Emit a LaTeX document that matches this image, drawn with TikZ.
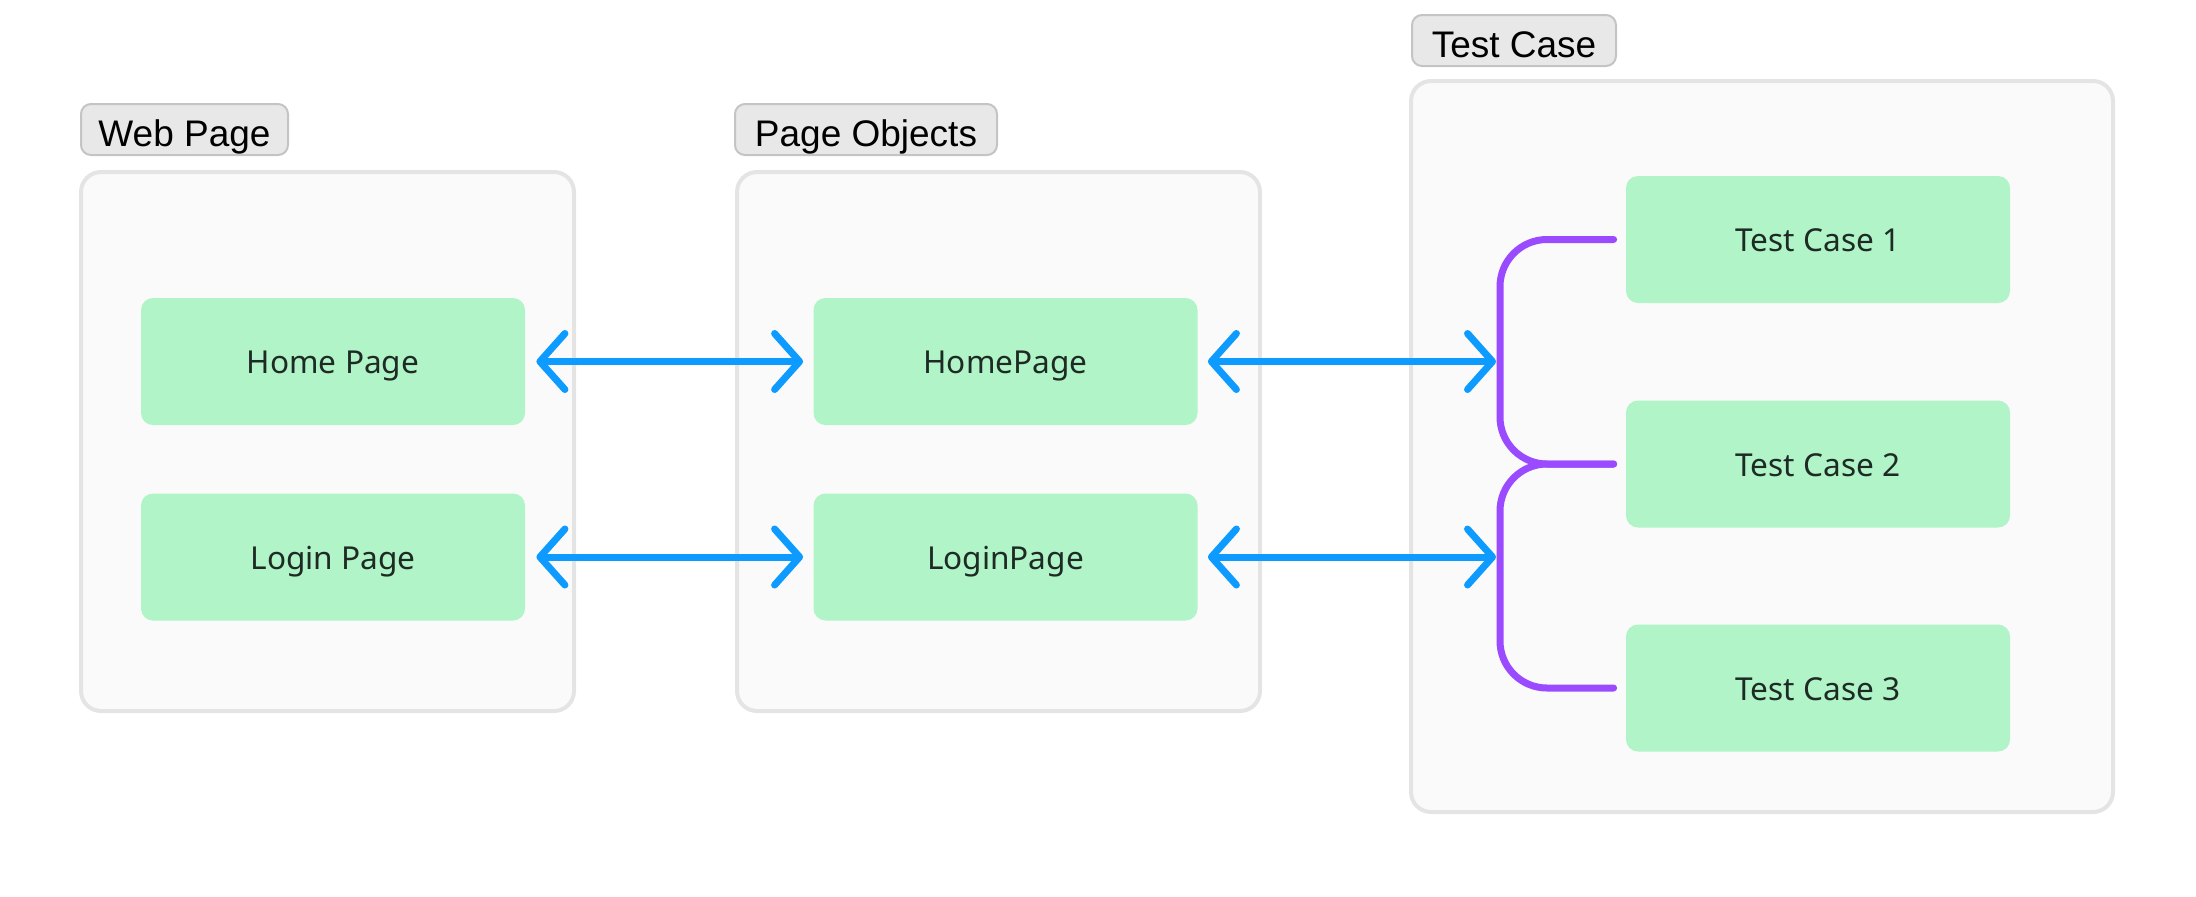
\documentclass[tikz,border=0pt]{standalone}
\usepackage{fontspec}
\setmainfont{Noto Sans}
\newfontfamily\labelfont{Liberation Sans}
\usetikzlibrary{arrows.meta}
\definecolor{boxgreen}{HTML}{B0F4C8}
\definecolor{contfill}{HTML}{FAFAFA}
\definecolor{contline}{HTML}{E4E4E4}
\definecolor{tagfill}{HTML}{E8E8E8}
\definecolor{tagline}{HTML}{C4C4C4}
\definecolor{arrowblue}{HTML}{0E9BFF}
\definecolor{bracketpurple}{HTML}{9B4BFF}
\definecolor{textdark}{HTML}{1E2B24}
\tikzset{
  container/.style={draw=contline, fill=contfill, line width=2pt, rounded corners=10pt},
  item/.style={fill=boxgreen, rounded corners=6pt, minimum width=192pt, minimum height=63.5pt, inner sep=0pt, text height=12pt, text depth=0pt, text=textdark, font=\fontsize{15.8pt}{18pt}\selectfont},
  tag/.style={draw=tagline, fill=tagfill, line width=1pt, rounded corners=5pt, minimum height=25.5pt, inner sep=0pt, text height=17pt, text depth=0pt, text=black, font=\labelfont\fontsize{18.5pt}{22pt}\selectfont},
  biarrow/.style={draw=arrowblue, line width=3.5pt, {Straight Barb[length=12.5pt,width=28pt,round]}-{Straight Barb[length=12.5pt,width=28pt,round]}},
  bracket/.style={draw=bracketpurple, line width=3.5pt, line cap=round, rounded corners=23.5pt}
}
\begin{document}
\begin{tikzpicture}[x=0.5pt,y=-0.5pt]
\useasboundingbox (0,0) rectangle (2196,896);
% containers
\draw[container] (81,172) rectangle (574,711);
\draw[container] (737,172) rectangle (1260,711);
\draw[container] (1411,81) rectangle (2113,812);
% tags
\node[tag, minimum width=103.5pt] (wl) at (184.5,129.5) {Web Page};
\node[tag, minimum width=131pt] (pl) at (866,129.5) {Page Objects};
\node[tag, minimum width=102pt] (tl) at (1514,40.5) {Test Case};
% items
\node[item] (hp) at (333,361.5) {Home Page};
\node[item] (lp) at (333,557) {Login Page};
\node[item] (hpo) at (1005.5,361.5) {HomePage};
\node[item] (lpo) at (1005.5,557) {LoginPage};
\node[item] (tc1) at (1818,239.5) {Test Case 1};
\node[item] (tc2) at (1818,464) {Test Case 2};
\node[item] (tc3) at (1818,688) {Test Case 3};
% bracket
\coordinate (bx) at (1500,0);
\coordinate (b1) at (1496,361.5);
\coordinate (b2) at (1496,557);
\draw[bracket] ([xshift=-6pt]tc1.west) -- (tc1.west -| bx) -- (tc2.west -| bx) -- ([xshift=-6pt]tc2.west);
\draw[bracket] ([xshift=-6pt]tc2.west) -- (tc2.west -| bx) -- (tc3.west -| bx) -- ([xshift=-6pt]tc3.west);
% arrows
\draw[biarrow, shorten <=5.5pt, shorten >=5pt] (hp.east) -- (hpo.west);
\draw[biarrow, shorten <=5.5pt, shorten >=5pt] (lp.east) -- (lpo.west);
\draw[biarrow, shorten <=5pt] (hpo.east) -- (b1);
\draw[biarrow, shorten <=5pt] (lpo.east) -- (b2);
\end{tikzpicture}
\end{document}
